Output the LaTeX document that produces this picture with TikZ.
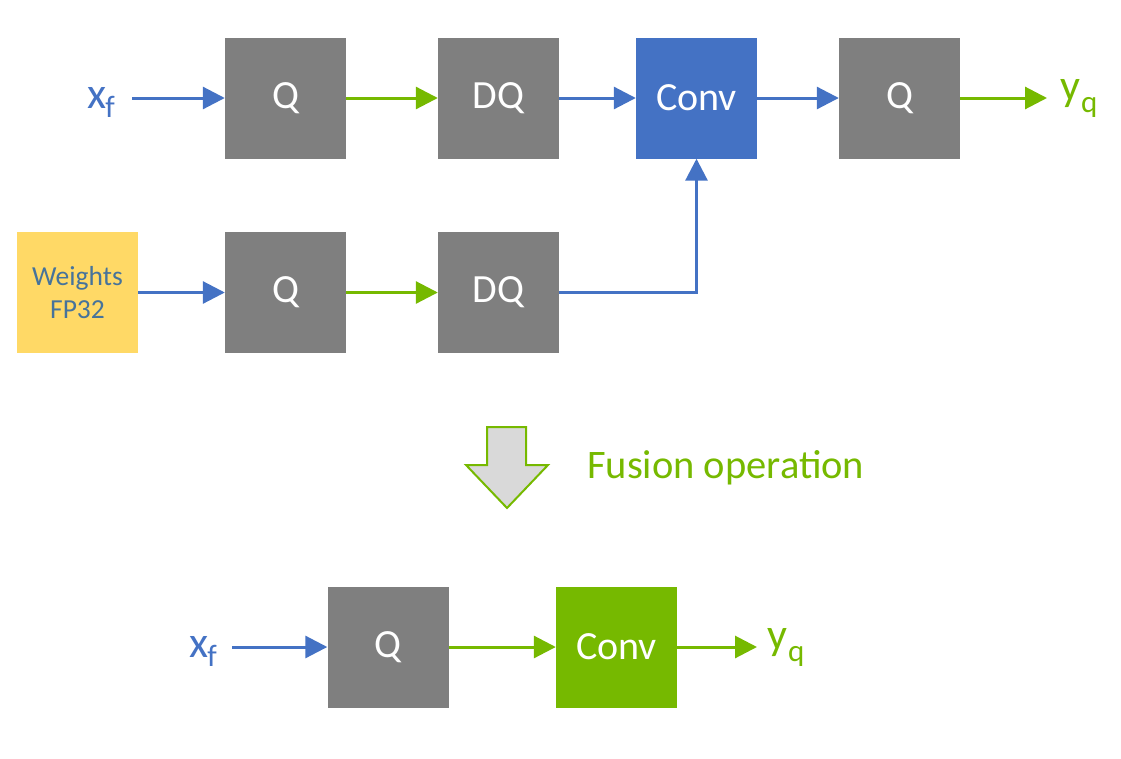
\documentclass[tikz,border=0pt]{standalone}
\usepackage{fontspec}
\setmainfont{Carlito}
\usetikzlibrary{arrows.meta}
\definecolor{nblue}{RGB}{68,114,196}
\definecolor{ngreen}{RGB}{118,185,0}
\definecolor{ngray}{RGB}{127,127,127}
\definecolor{nyellow}{RGB}{255,217,102}
\definecolor{wtext}{RGB}{70,115,155}
\definecolor{lgray}{RGB}{217,217,217}
\newcommand{\xsub}{{\fontsize{44}{44}\selectfont x}\kern-1pt\raisebox{-9pt}{\fontsize{31}{31}\selectfont f}}
\newcommand{\ysub}{{\fontsize{44}{44}\selectfont y}\kern1pt\raisebox{-12pt}{\fontsize{31}{31}\selectfont q}}
\begin{document}
\begin{tikzpicture}[x=1pt,y=-1pt,
  blk/.style={minimum width=121pt,minimum height=121pt,inner sep=0pt,text=white,font=\fontsize{40}{42}\selectfont},
  gblk/.style={blk,fill=ngray},
  lbl/.style={inner sep=0pt,anchor=base west},
  arr/.style={line width=3pt,-{Triangle[length=22pt,width=22pt]}},
  barr/.style={arr,draw=nblue},
  garr/.style={arr,draw=ngreen}]
\useasboundingbox (0,0) rectangle (1121,758);
% top row
\node[gblk] (q1) at (285.5,98) {Q};
\node[gblk] (dq1) at (498.5,98) {DQ};
\node[blk,fill=nblue] (conv1) at (696.5,98) {Conv};
\node[gblk] (q2) at (899.5,98) {Q};
\node[lbl,text=nblue] (xf1) at (87,108) {\xsub};
\node[lbl,text=ngreen] (yq1) at (1060,100) {\ysub};
% second row
\node[blk,fill=nyellow,text=wtext,font=\fontsize{27.5}{33}\selectfont,align=center] (w) at (77.5,292.5) {Weights\\FP32};
\node[gblk] (q3) at (285.5,292.5) {Q};
\node[gblk] (dq3) at (498.5,292.5) {DQ};
% bottom row
\node[gblk] (q4) at (388,647) {Q};
\node[blk,fill=ngreen] (conv4) at (616.5,647) {Conv};
\node[lbl,text=nblue] (xf4) at (189,657) {\xsub};
\node[lbl,text=ngreen] (yq4) at (767,649) {\ysub};
% fusion
\draw[draw=ngreen,line width=2pt,fill=lgray,line join=miter]
  (487,427) -- (526,427) -- (526,465) -- (548,465) -- (507,508) -- (466,465) -- (487,465) -- cycle;
\node[inner sep=0pt,text=ngreen,anchor=west,font=\fontsize{40.5}{42}\selectfont] (fus) at (587,468) {Fusion operation};
% connectors
\coordinate (s1) at (132,98);
\coordinate (e1) at (1047,98);
\draw[barr] (s1) -- (q1.west);
\draw[garr] (q1.east) -- (dq1.west);
\draw[barr] (dq1.east) -- (conv1.west);
\draw[barr] (conv1.east) -- (q2.west);
\draw[garr] (q2.east) -- (e1);
\draw[barr] (w.east) -- (q3.west);
\draw[garr] (q3.east) -- (dq3.west);
\draw[barr] (dq3.east) -| (conv1.south);
\coordinate (s4) at (232,647);
\draw[barr] (s4) -- (q4.west);
\draw[garr] (q4.east) -- (conv4.west);
\coordinate (e4) at (757,647);
\draw[garr] (conv4.east) -- (e4);
\end{tikzpicture}
\end{document}
